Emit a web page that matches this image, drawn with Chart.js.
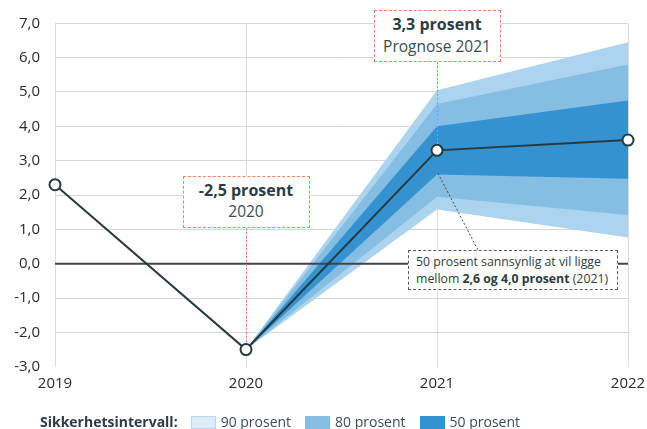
<!DOCTYPE html>
<html>
<head>
<meta charset="utf-8">
<script src="https://cdn.jsdelivr.net/npm/chart.js@4"></script>
<style>
  html,body{margin:0;padding:0;background:#fff;}
  #wrap{position:relative;width:647px;height:429px;overflow:hidden;font-family:"Open Sans",sans-serif;color:#2b3d42;}
  canvas{position:absolute;left:0;top:0;}
  .ann{position:absolute;box-sizing:border-box;background:#fff;text-align:center;white-space:nowrap;}
  .ann.orange{border:1px dashed #ef8262;}
  .ann .b{font-weight:700;font-size:16px;color:#2b3d42;}
  .ann .r{font-weight:400;font-size:15.5px;color:#3a4c52;}
  #note{position:absolute;box-sizing:border-box;background:#fff;border:1px dashed #51605f;font-size:12.3px;line-height:17px;color:#2b3d42;padding:2px 0 0 7px;white-space:nowrap;}
  #legend{position:absolute;left:40px;top:413px;font-size:14px;line-height:18px;display:flex;align-items:center;white-space:nowrap;color:#2b3d42;}
  #legend .title{font-weight:700;margin-right:13px;}
  #legend .box{display:inline-block;width:25px;height:13px;box-sizing:border-box;margin-right:5px;}
  #legend .item{display:flex;align-items:center;margin-right:14px;color:#3a4c52;}
</style>
</head>
<body>
<div id="wrap">
  <canvas id="c" width="647" height="429"></canvas>
  <div class="ann orange" id="ann2020"><div class="b">-2,5 prosent</div><div class="r">2020</div></div>
  <div class="ann orange" id="ann2021"><div class="b">3,3 prosent</div><div class="r">Prognose 2021</div></div>
  <div id="note">50 prosent sannsynlig at vil ligge<br>mellom <b>2,6 og 4,0 prosent</b> (2021)</div>
  <div id="legend"></div>
</div>
<script>
// ---- data ----
const years = ['2019', '2020', '2021', '2022'];
const bnp   = [2.3, -2.5, 3.3, 3.6];
const hi90  = [null, -2.5, 5.05, 6.45];
const hi80  = [null, -2.5, 4.65, 5.8];
const hi50  = [null, -2.5, 4.0, 4.75];
const lo50  = [null, -2.5, 2.6, 2.47];
const lo80  = [null, -2.5, 1.95, 1.42];
const lo90  = [null, -2.5, 1.58, 0.76];
const zeroLine = [0, 0, 0, 0];
const yMin = -3, yMax = 7;
const legendTitle = 'Sikkerhetsintervall:';
const bandLabels = ['90 prosent', '80 prosent', '50 prosent'];

// ---- styles ----
const C90 = '#acd4ee', C80 = '#85bde3', C50 = '#3492d1';
const LINE = '#28393e';

function band(data, fill, color) {
  return { data, fill, backgroundColor: color, borderWidth: 0, pointRadius: 0, tension: 0, spanGaps: true };
}

const overlay = {
  id: 'overlay',
  afterDatasetsDraw(chart) {
    const ctx = chart.ctx, x = chart.scales.x, y = chart.scales.y;
    ctx.save();
    ctx.lineWidth = 1;
    ctx.strokeStyle = '#ef8262';
    ctx.setLineDash([2, 2]);
    const a1 = document.getElementById('ann2020');
    const a2 = document.getElementById('ann2021');
    [[1, a1], [2, a2]].forEach(([i, el]) => {
      const px = Math.round(x.getPixelForValue(i)) + 0.5;
      const top = el.offsetTop + el.offsetHeight;
      ctx.beginPath();
      ctx.moveTo(px, top);
      ctx.lineTo(px, y.getPixelForValue(bnp[i]) - 6);
      ctx.stroke();
    });
    const note = document.getElementById('note');
    ctx.strokeStyle = '#3d4d52';
    ctx.beginPath();
    ctx.moveTo(x.getPixelForValue(2) + 1, y.getPixelForValue(lo50[2]) - 1);
    ctx.lineTo(note.offsetLeft + 70, note.offsetTop);
    ctx.stroke();
    ctx.restore();
  }
};

const placeAnn = {
  id: 'placeAnn',
  beforeDraw(chart) {
    const x = chart.scales.x, y = chart.scales.y;
    const a1 = document.getElementById('ann2020');
    const a2 = document.getElementById('ann2021');
    const note = document.getElementById('note');
    const W = 127, H = 52;
    [[a1, 1, y.getPixelForValue(2.56)], [a2, 2, chart.chartArea.top - 13.3]].forEach(([el, i, top]) => {
      el.style.width = W + 'px';
      el.style.height = H + 'px';
      el.style.left = (x.getPixelForValue(i) - W / 2) + 'px';
      el.style.top = top + 'px';
      el.style.paddingTop = '3px';
      el.style.lineHeight = '21.5px';
    });
    note.style.left = (x.getPixelForValue(2) - 29) + 'px';
    note.style.top = (y.getPixelForValue(0) - 13.5) + 'px';
    note.style.width = '210px';
    note.style.height = '40px';
  }
};

new Chart(document.getElementById('c'), {
  type: 'line',
  data: {
    labels: years,
    datasets: [
      { data: bnp, borderColor: LINE, borderWidth: 2, tension: 0, fill: false,
        pointRadius: 5.5, pointBackgroundColor: '#fff', pointBorderColor: LINE, pointBorderWidth: 2 },
      { data: zeroLine, borderColor: '#404547', borderWidth: 2, pointRadius: 0, fill: false },
      band(hi50, '+1', C50),
      band(lo50, false, C50),
      band(hi80, '+1', C80),
      band(lo80, false, C80),
      band(hi90, '+1', C90),
      band(lo90, false, C90)
    ]
  },
  options: {
    responsive: false,
    animation: false,
    events: [],
    layout: { padding: { top: 23.3, right: 19, bottom: 34.3, left: 0 } },
    plugins: { legend: { display: false }, tooltip: { enabled: false } },
    scales: {
      x: {
        offset: false,
        border: { display: false },
        grid: { color: '#dcdcdc', lineWidth: 1, drawTicks: false },
        ticks: { color: '#2a2a2a', padding: 8, font: { family: 'Open Sans', size: 15 }, maxRotation: 0 },
        afterFit(s) { s.height = 28; s.paddingLeft = 0; s.paddingRight = 0; }
      },
      y: {
        min: yMin, max: yMax,
        border: { display: false },
        grid: {
          drawTicks: false,
          color: c => (c.tick && (c.tick.value === 0 || c.tick.value === yMin)) ? 'rgba(0,0,0,0)' : '#d6d6d6',
          borderDash: [3, 2]
        },
        ticks: {
          stepSize: 1, padding: 15, color: '#2a2a2a',
          font: { family: 'Open Sans', size: 15 },
          callback: v => v.toFixed(1).replace('.', ',')
        },
        afterFit(s) { s.width = 55; s.paddingTop = 0; s.paddingBottom = 0; }
      }
    }
  },
  plugins: [placeAnn, overlay]
});

// legend
const lg = document.getElementById('legend');
const t = document.createElement('span'); t.className = 'title'; t.textContent = legendTitle; lg.appendChild(t);
const legendFill = ['#dcedf9', C80, C50];
const legendBorder = ['#b6d6eb', C80, C50];
bandLabels.forEach((lab, i) => {
  const it = document.createElement('span'); it.className = 'item';
  const b = document.createElement('span'); b.className = 'box';
  b.style.background = legendFill[i]; b.style.border = '1px solid ' + legendBorder[i];
  it.appendChild(b);
  const s = document.createElement('span'); s.textContent = lab; it.appendChild(s);
  lg.appendChild(it);
});
</script>
</body>
</html>
